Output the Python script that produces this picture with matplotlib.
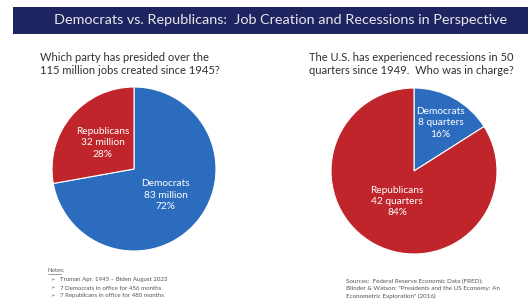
import matplotlib
matplotlib.use('Agg')
import matplotlib.pyplot as plt
from matplotlib.patches import Rectangle
from matplotlib.lines import Line2D
import numpy as np

plt.rcParams['font.family'] = ['Lato', 'DejaVu Sans']

# Data
parties = ['Democrats', 'Republicans']
jobs_millions = [83, 32]
jobs_pct = [72, 28]
recession_quarters = [8, 42]
recession_pct = [16, 84]

title = 'Democrats vs. Republicans:  Job Creation and Recessions in Perspective'
left_question = 'Which party has presided over the\n115 million jobs created since 1945?'
right_question = 'The U.S. has experienced recessions in 50\nquarters since 1949.  Who was in charge?'
notes = ['Truman Apr. 1945 \u2013 Biden August 2023',
         '7 Democrats in office for 456 months',
         '7 Republicans in office for 480 months']
sources = 'Sources:  Federal Reserve Economic Data (FRED);\nBlinder & Watson: "Presidents and the US Economy: An\nEconometric Exploration" (2016)'

BLUE = '#2c6cbf'
RED = '#bf252a'
NAVY = '#1e2460'
W, H = 528, 305


def px_axes(fig, cx, cy, r):
    # cx, cy in pixels from top-left
    return fig.add_axes([(cx - r) / W, (H - cy - r) / H, 2 * r / W, 2 * r / H])


def draw_pie(ax, values, labels, dists):
    wedges, texts = ax.pie(values, colors=[BLUE, RED], startangle=90, counterclock=False,
                           labels=labels, labeldistance=0.5,
                           wedgeprops=dict(edgecolor='white', linewidth=0.8),
                           textprops=dict(color='white', fontsize=7.3, ha='center', va='center',
                                          linespacing=1.35))
    for w, t, d in zip(wedges, texts, dists):
        mid = np.deg2rad((w.theta1 + w.theta2) / 2)
        t.set_position((d * np.cos(mid), d * np.sin(mid)))
        t.set_ha('center')
    ax.set_xlim(-1, 1)
    ax.set_ylim(-1, 1)
    ax.set_aspect('equal')
    ax.axis('off')


fig = plt.figure(figsize=(W / 100, H / 100), dpi=100)
fig.patch.set_facecolor('white')

# Title bar
fig.patches.append(Rectangle((13 / W, (H - 34) / H), (W - 13) / W, 27 / H,
                             transform=fig.transFigure, facecolor=NAVY, edgecolor='none'))
fig.text(281 / W, 1 - 20.5 / H, title, color='#e8e8ec', fontsize=10.4,
         ha='center', va='center')

# Questions
fig.text(40 / W, 1 - 64 / H, left_question, fontsize=8, color='#303030',
         ha='left', va='center', linespacing=1.3)
fig.text(411 / W, 1 - 64 / H, right_question, fontsize=8, color='#303030',
         ha='center', va='center', linespacing=1.3)

# Left pie
ax1 = px_axes(fig, 134, 169, 82)
labels1 = [f'{p}\n{v} million\n{pc}%' for p, v, pc in zip(parties, jobs_millions, jobs_pct)]
draw_pie(ax1, jobs_millions, labels1, [0.5, 0.5])

# Right pie
ax2 = px_axes(fig, 414, 171, 83)
labels2 = [f'{p}\n{v} quarters\n{pc}%' for p, v, pc in zip(parties, recession_quarters, recession_pct)]
draw_pie(ax2, recession_quarters, labels2, [0.66, 0.42])

# Notes
fig.text(48 / W, 1 - 271 / H, 'Notes:', fontsize=4.3, color='#555555', va='center')
fig.add_artist(Line2D([48 / W, 61 / W], [1 - 274 / H, 1 - 274 / H], color='#555555',
                      linewidth=0.4, transform=fig.transFigure))
for i, n in enumerate(notes):
    y = 1 - (280 + 8 * i) / H
    fig.text(50 / W, y, '\u27a2', fontsize=3.8, color='#555555', va='center',
             family=['DejaVu Sans'])
    fig.text(60 / W, y, n, fontsize=4.4, color='#555555', va='center')

# Sources
fig.text(346 / W, 1 - 289 / H, sources, fontsize=4.5, color='#555555',
         va='center', linespacing=1.5)

fig.savefig('out.png', dpi=100, facecolor='white')
